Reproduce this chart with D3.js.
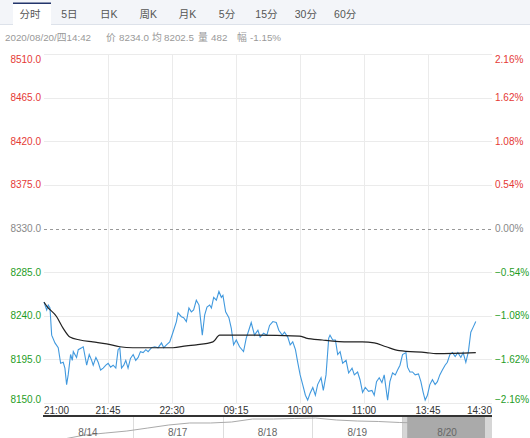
<!DOCTYPE html>
<html>
<head>
<meta charset="utf-8">
<script src="https://d3js.org/d3.v7.min.js"></script>
<style>
  body { margin:0; background:#fff; }
  text { font-family:"Liberation Sans", Arial, "Noto Sans CJK SC", sans-serif; }
  .cjk { font-family:"Liberation Sans", "Noto Sans CJK SC", sans-serif; }
</style>
</head>
<body>
<div id="chart"></div>
<script>
// 前收盘
var prevClose = 8330;

// 分时价格 (交易分钟, 自21:00起)
var priceMin = [0,1.9,3,4.2,5.4,7.7,10,11.7,13.5,14.7,15.9,17,18.7,19.9,20.6,22.9,24.1,26.5,27.6,30,31.8,33.5,34.6,36.5,38.1,39.8,41.6,43.5,45.1,46.8,48.6,50.5,52.1,53.3,54.5,56.1,57.5,59.1,60.8,62.7,64.5,66.2,67.8,69.7,71.6,73.2,75.6,77.9,80.2,82.6,84.2,86.1,88.4,90.7,93.1,94.2,96.6,98.2,100.1,101.9,103.6,105.2,107.1,109,111.3,113,114.6,116.5,117.7,119.3,121.2,123,124.7,125.8,127.7,130,131.7,133.3,135.2,137.5,140.3,142.2,144,145.7,148,150.4,152,154.4,156.7,158.6,160.9,163.3,165.1,167.5,169.1,171.4,173.1,174.9,176.8,178.4,180.1,181.9,183.8,185.4,187.1,189,190.8,192.4,194.8,196.4,198.3,200.2,201.1,203,204.9,206.5,208.2,210,212.4,214.2,216.6,218.2,220.5,222.2,224,225.9,228.2,230.6,232.2,233.8,235.7,237.6,239.2,241.6,243.2,245.1,247,248.6,250.3,252.1,254.5,255.6,257.3,259.1,261,263.3,265,266.6,268,269.6,271.3,273.1,275,276.6,278.3,280.1,282,283.6,285.4,287.2,289.1,291,293.1,294.7,296.6,298.4,300.1,301.7,303.6];
var price = [8254,8246,8251,8248,8220,8212,8207,8191,8192,8186,8169,8179,8200,8194,8203,8197,8205,8207,8208,8189,8200,8194,8189,8197,8192,8184,8186,8189,8191,8187,8189,8186,8205,8207,8186,8189,8194,8186,8196,8200,8194,8197,8203,8202,8205,8203,8207,8208,8207,8212,8207,8210,8213,8223,8234,8243,8239,8238,8234,8248,8244,8246,8256,8251,8220,8241,8249,8251,8248,8259,8256,8265,8259,8261,8244,8238,8227,8210,8215,8208,8203,8217,8225,8233,8220,8225,8218,8222,8220,8230,8234,8233,8225,8220,8223,8218,8210,8213,8205,8192,8179,8169,8158,8153,8160,8166,8158,8169,8176,8163,8179,8217,8220,8215,8215,8200,8203,8191,8194,8181,8186,8179,8182,8174,8161,8166,8162,8163,8158,8172,8176,8171,8179,8153,8172,8181,8179,8184,8189,8200,8202,8187,8182,8182,8179,8180,8172,8161,8153,8158,8169,8174,8169,8172,8179,8184,8189,8192,8200,8202,8198,8202,8197,8202,8192,8203,8223,8228,8234];

// 均价
var avgMin = [0,1.9,8.9,13.5,18.2,25.3,34.4,44,53.3,62.4,81.4,90.7,100.1,107.1,118.8,123.5,137.5,179.6,184.3,195.7,214,223.8,232.2,240.6,249.8,268.7,275.7,303.6];
var avgPrice = [8254,8250,8239,8227,8218,8215,8213,8211,8208,8207,8207,8207,8209,8210,8213,8220,8220,8219,8217,8215,8213,8213,8212,8208,8204,8202,8201,8202];

var priceTicks = [8510,8465,8420,8375,8330,8285,8240,8195,8150];
var timeLabels = ["21:00","21:45","22:30","09:15","10:00","11:00","13:45","14:30"];
var tabs = ["分时","5日","日K","周K","月K","5分","15分","30分","60分"];

// 下方五日导航
var navDays = ["8/14","8/17","8/18","8/19","8/20"];
var navValues = [7900,7952,8021,8056,8090,8142,8194,8229,8229,8246,8298,8298,8307,8315,8281,8263,8255,8238,8229,8212,8229,8246];

var W = 530, H = 438;
var red = "#e53935", green = "#1f9d1f", gray = "#888";

var svg = d3.select("#chart").append("svg")
  .attr("width", W).attr("height", H);

// tab bar
svg.append("rect").attr("x",0).attr("y",0).attr("width",W).attr("height",25).attr("fill","#f3f5f9");
svg.append("line").attr("x1",0).attr("x2",W).attr("y1",24.5).attr("y2",24.5).attr("stroke","#dde2ea");
svg.append("rect").attr("x",13).attr("y",3).attr("width",38).attr("height",22).attr("fill","#fff");
svg.append("rect").attr("x",13).attr("y",2.5).attr("width",38).attr("height",1.5).attr("fill","#23356b");
svg.selectAll(".tab").data(tabs).enter().append("text")
  .attr("class","cjk")
  .attr("x", function(d,i){ return 30 + i*39.4; })
  .attr("y", 18)
  .attr("text-anchor","middle")
  .attr("font-size","10.5px")
  .attr("fill", "#555")
  .text(function(d){ return d; });

// info line
var info = [["2020/08/20/四14:42",5],["价",106],["8234.0",119],["均",152],["8202.5",164],["量",198],["482",211],["幅",237],["-1.15%",250]];
svg.selectAll(".info").data(info).enter().append("text")
  .attr("class","cjk")
  .attr("x", function(d){ return d[1]; })
  .attr("y", 41)
  .attr("font-size","9.8px")
  .attr("fill","#999")
  .text(function(d){ return d[0]; });

var x = d3.scaleLinear().domain([0,315]).range([44,492]);
var y = d3.scaleLinear().domain([8150,8510]).range([403,54]);

function tickColor(v){ return v > prevClose ? red : (v < prevClose ? green : gray); }

// horizontal grid
svg.selectAll(".hg").data(priceTicks.filter(function(v){ return v != prevClose; })).enter().append("line")
  .attr("x1",x(0)).attr("x2",x(315))
  .attr("y1",function(d){ return Math.round(y(d))+0.5; })
  .attr("y2",function(d){ return Math.round(y(d))+0.5; })
  .attr("stroke","#ebebeb");
// vertical grid
var tickMin = timeLabels.map(function(d,i){ return i*45; });
svg.selectAll(".vg").data(tickMin.slice(1,-1)).enter().append("line")
  .attr("x1",function(d){ return Math.round(x(d))+0.5; })
  .attr("x2",function(d){ return Math.round(x(d))+0.5; })
  .attr("y1",y(8510)).attr("y2",y(8150))
  .attr("stroke","#ebebeb");
// prev close dashed
svg.append("line")
  .attr("x1",x(0)).attr("x2",x(315))
  .attr("y1",Math.round(y(prevClose))+0.5).attr("y2",Math.round(y(prevClose))+0.5)
  .attr("stroke","#999").attr("stroke-dasharray","3,3");

// y labels
function labelY(d,i){
  if (i == 0) return y(d) + 8.5;
  if (i == priceTicks.length-1) return y(d) - 0.5;
  return y(d) + 3.5;
}
svg.selectAll(".yl").data(priceTicks).enter().append("text")
  .attr("x",41).attr("y",labelY)
  .attr("text-anchor","end").attr("font-size","10px")
  .attr("fill",tickColor)
  .text(function(d){ return d3.format(".1f")(d); });
svg.selectAll(".yr").data(priceTicks).enter().append("text")
  .attr("x",495).attr("y",labelY)
  .attr("font-size","10px")
  .attr("fill",tickColor)
  .text(function(d){ return d3.format(".2f")((d-prevClose)/prevClose*100) + "%"; });

// lines
var priceData = priceMin.map(function(m,i){ return [m, price[i]]; });
var avgData = avgMin.map(function(m,i){ return [m, avgPrice[i]]; });
var line = d3.line().x(function(d){ return x(d[0]); }).y(function(d){ return y(d[1]); });

svg.append("path").datum(priceData).attr("d",line)
  .attr("fill","none").attr("stroke","#4199de").attr("stroke-width",1.1);
svg.append("path").datum(avgData).attr("d",line.curve(d3.curveMonotoneX))
  .attr("fill","none").attr("stroke","#222").attr("stroke-width",1.2);

// time labels
svg.selectAll(".xl").data(timeLabels).enter().append("text")
  .attr("x",function(d,i){ return x(tickMin[i]); })
  .attr("y",414)
  .attr("text-anchor",function(d,i){ return i == 0 ? "start" : (i == timeLabels.length-1 ? "end" : "middle"); })
  .attr("font-size","10px").attr("fill","#333")
  .text(function(d){ return d; });

// navigator
var nx = d3.scaleLinear().domain([0, navDays.length]).range([43,492]);
var ny = d3.scaleLinear().domain([7900,8350]).range([442,416]);
var nline = d3.line()
  .x(function(d,i){ return nx(i/(navValues.length-1)*4.9); })
  .y(function(d){ return ny(d); });
svg.append("rect").attr("x",nx(0)).attr("y",417).attr("width",nx(5)-nx(0)).attr("height",H-417).attr("fill","#fff");
svg.selectAll(".nd").data(navDays.slice(1)).enter().append("line")
  .attr("x1",function(d,i){ return Math.round(nx(i+1))+0.5; })
  .attr("x2",function(d,i){ return Math.round(nx(i+1))+0.5; })
  .attr("y1",417).attr("y2",H).attr("stroke","#ddd");
svg.append("rect").attr("x",nx(4)).attr("y",417).attr("width",nx(5)-nx(4)).attr("height",H-417).attr("fill","#aaa");
svg.append("rect").attr("x",nx(4)).attr("y",417).attr("width",5).attr("height",H-417).attr("fill","#d6d6d6");
svg.append("rect").attr("x",nx(5)-7).attr("y",417).attr("width",7).attr("height",H-417).attr("fill","#d6d6d6");
svg.append("path").datum(navValues).attr("d",nline)
  .attr("fill","none").attr("stroke","#aaa").attr("stroke-width",1);
svg.selectAll(".nl").data(navDays).enter().append("text")
  .attr("x",function(d,i){ return nx(i+0.5); })
  .attr("y",436).attr("text-anchor","middle")
  .attr("font-size","10px").attr("fill","#666")
  .text(function(d){ return d; });
svg.append("line").attr("x1",43).attr("x2",492).attr("y1",416).attr("y2",416)
  .attr("stroke","#333").attr("stroke-width",2);
</script>
</body>
</html>
